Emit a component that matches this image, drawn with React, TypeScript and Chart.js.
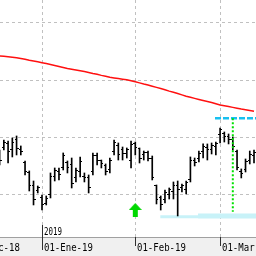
import { useEffect, useRef } from 'react';
import { Chart, registerables } from 'chart.js';

Chart.register(...registerables);

// ---- data (trading-day index 0 = first visible session) ----
const highs = [17.85, 19.59, 19.42, 19.94, 20.29, 18.55, 15.93, 14.19, 12.44, 11.57, 10.0, 9.83, 13.84, 14.71, 14.71, 17.33, 15.93, 16.45, 14.71, 16.63, 13.84, 13.49, 17.33, 17.33, 16.1, 15.41, 16.45, 19.59, 19.07, 18.37, 18.2, 19.42, 19.24, 18.2, 17.67, 17.67, 16.8, 11.74, 9.83, 10.87, 11.22, 12.27, 12.44, 11.92, 12.44, 16.63, 16.45, 17.67, 18.9, 18.9, 19.07, 19.24, 21.69, 20.99, 20.64, 20.12, 17.85, 14.54, 16.28, 17.67, 17.85];
const lows = [15.23, 17.85, 15.58, 16.63, 16.98, 16.98, 13.49, 10.7, 8.26, 10.35, 7.38, 8.26, 9.48, 12.44, 12.62, 14.36, 13.84, 11.22, 12.27, 13.14, 12.27, 10.35, 13.49, 15.23, 14.71, 13.49, 13.84, 16.98, 16.1, 16.1, 16.45, 14.71, 16.98, 15.58, 16.1, 15.93, 12.62, 8.43, 7.38, 8.6, 9.3, 9.3, 6.34, 10.52, 10.17, 12.27, 15.06, 15.76, 16.45, 16.1, 17.15, 16.98, 19.07, 19.24, 18.9, 17.85, 14.36, 12.97, 14.01, 15.41, 15.58];
const opens = [16.98, 18.2, 18.9, 17.85, 19.59, 17.85, 15.58, 13.84, 11.57, 10.7, 9.48, 8.6, 10.0, 13.31, 14.01, 14.71, 15.58, 15.23, 12.97, 14.01, 13.31, 12.97, 14.01, 16.8, 15.93, 15.06, 14.36, 17.5, 18.55, 17.85, 17.15, 16.1, 18.9, 18.02, 16.98, 17.33, 16.45, 11.57, 9.48, 9.13, 10.17, 10.52, 11.74, 11.22, 10.87, 12.62, 15.93, 16.45, 17.5, 18.2, 17.85, 18.37, 20.47, 20.64, 20.12, 19.59, 17.5, 14.01, 14.36, 16.1, 16.8];
const closes = [15.93, 19.07, 17.5, 19.24, 18.02, 17.5, 14.01, 11.74, 9.13, 11.22, 8.26, 9.3, 13.31, 14.19, 13.49, 16.8, 14.71, 11.92, 14.19, 15.76, 12.97, 11.22, 16.8, 15.93, 15.41, 14.01, 16.1, 19.07, 16.98, 17.15, 17.85, 18.72, 18.2, 16.45, 17.33, 16.45, 12.97, 9.13, 8.26, 10.35, 10.87, 11.74, 10.87, 11.57, 12.09, 16.1, 15.58, 17.15, 18.37, 17.85, 18.55, 18.9, 21.34, 20.12, 19.59, 18.37, 14.71, 13.66, 15.76, 16.98, 17.33];
const movingAverage = [34.25, 34.19, 34.11, 34.02, 33.93, 33.81, 33.67, 33.51, 33.37, 33.23, 33.08, 32.92, 32.75, 32.59, 32.41, 32.24, 32.08, 31.94, 31.8, 31.66, 31.52, 31.37, 31.19, 31.04, 30.86, 30.7, 30.53, 30.41, 30.3, 30.2, 30.09, 29.94, 29.75, 29.55, 29.36, 29.19, 28.98, 28.77, 28.56, 28.35, 28.12, 27.91, 27.69, 27.46, 27.23, 27.04, 26.85, 26.66, 26.48, 26.31, 26.13, 25.91, 25.7, 25.56, 25.42, 25.28, 25.14, 25.0, 24.88, 24.74, 24.6];

const monthTickIndex = [-7.3, 10, 32, 52];
const monthLabels = ['01-Dic-18', '01-Ene-19', '01-Feb-19', '01-Mar-19'];
const yearTickIndex = 10;
const yearLabel = '2019';
const priceGrid = [10, 20, 30, 40];

const resistanceLevel = 23.38;
const resistanceFrom = 50.8;
const signalIndex = 55;
const signalBottom = 7.09;
const supportThinLevel = 6.21;
const supportThinFrom = 37.9;
const supportThickLevel = 6.34;
const supportThickFrom = 46.8;
const arrowIndex = 32;
const arrowLevel = 7.38;

const viewMin = 0.094;
const viewMax = 60.47;
const priceMin = 2.67;
const priceMax = 44.01;

function tickImage(side: 'left' | 'right') {
  const c = document.createElement('canvas');
  c.width = 4;
  c.height = 1;
  const g = c.getContext('2d')!;
  g.fillStyle = '#000';
  g.fillRect(side === 'left' ? 0 : 2, 0, 2, 1);
  return c;
}

function arrowImage() {
  const c = document.createElement('canvas');
  c.width = 13;
  c.height = 14;
  const g = c.getContext('2d')!;
  g.fillStyle = '#00d800';
  g.beginPath();
  g.moveTo(6.5, 0);
  g.lineTo(13, 7);
  g.lineTo(0, 7);
  g.closePath();
  g.fill();
  g.fillRect(4, 7, 5, 7);
  return c;
}

const dateAxisPlugin = {
  id: 'dateAxis',
  beforeDraw(chart: any) {
    const { ctx, chartArea, width, height } = chart;
    ctx.save();
    ctx.fillStyle = '#ffffff';
    ctx.fillRect(0, 0, width, height);
    ctx.fillStyle = '#f0f0f0';
    ctx.fillRect(0, chartArea.bottom, width, height - chartArea.bottom);
    ctx.restore();
  },
  afterDraw(chart: any) {
    const { ctx, chartArea } = chart;
    const xs = chart.scales.x;
    const bottom = chartArea.bottom;
    ctx.save();
    ctx.strokeStyle = '#303030';
    ctx.lineWidth = 1;
    ctx.fillStyle = '#000';
    ctx.textBaseline = 'alphabetic';
    ctx.textAlign = 'left';
    ctx.font = '11px "DejaVu Sans Mono"';
    monthTickIndex.forEach((idx, i) => {
      const px = Math.round(xs.getPixelForValue(idx)) + 0.5;
      ctx.beginPath();
      ctx.moveTo(px, bottom);
      ctx.lineTo(px, bottom + 9);
      ctx.stroke();
      ctx.save();
      ctx.translate(px + 1.5, bottom + 14);
      ctx.scale(0.82, 1);
      ctx.fillText(monthLabels[i], 0, 0);
      ctx.restore();
    });
    const yx = Math.round(xs.getPixelForValue(yearTickIndex)) + 0.5;
    ctx.beginPath();
    ctx.moveTo(yx, bottom - 12);
    ctx.lineTo(yx, bottom + 13);
    ctx.stroke();
    ctx.save();
    ctx.translate(yx + 1.5, bottom - 2);
    ctx.scale(0.68, 1);
    ctx.fillText(yearLabel, 0, 0);
    ctx.restore();
    ctx.restore();
  },
};

export default function App() {
  const ref = useRef<HTMLCanvasElement>(null);
  useEffect(() => {
    const openImg = tickImage('left');
    const closeImg = tickImage('right');
    const arrowImg = arrowImage();
    const chart = new Chart(ref.current!, {
      type: 'bar',
      data: {
        datasets: [
          {
            type: 'line',
            data: [{ x: supportThinFrom, y: supportThinLevel }, { x: supportThickFrom, y: supportThinLevel }],
            borderColor: '#c8f2f8',
            borderWidth: 3,
            pointRadius: 0,
            order: 11,
          },
          {
            type: 'line',
            data: [{ x: supportThickFrom, y: supportThickLevel }, { x: viewMax + 1, y: supportThickLevel }],
            borderColor: '#c8f2f8',
            borderWidth: 5,
            pointRadius: 0,
            order: 10,
          },
          {
            type: 'line',
            data: movingAverage.map((v, i) => ({ x: i, y: v })),
            borderColor: '#ff1010',
            borderWidth: 1.5,
            pointRadius: 0,
            tension: 0,
            order: 9,
          },
          {
            type: 'bar',
            data: highs.map((h, i) => ({ x: i, y: [lows[i], h] })),
            backgroundColor: '#000',
            borderWidth: 0,
            barThickness: 1,
            grouped: false,
            order: 5,
          },
          {
            type: 'line',
            data: opens.map((v, i) => ({ x: i, y: v })),
            showLine: false,
            pointStyle: openImg,
            pointRadius: 1,
            order: 4,
          },
          {
            type: 'line',
            data: closes.map((v, i) => ({ x: i, y: v })),
            showLine: false,
            pointStyle: closeImg,
            pointRadius: 1,
            order: 3,
          },
          {
            type: 'line',
            data: [{ x: resistanceFrom, y: resistanceLevel }, { x: viewMax + 1, y: resistanceLevel }],
            borderColor: '#18c0f0',
            borderWidth: 2.5,
            borderDash: [6, 2],
            pointRadius: 0,
            order: 2,
          },
          {
            type: 'line',
            data: [{ x: signalIndex, y: resistanceLevel }, { x: signalIndex, y: signalBottom }],
            borderColor: '#00e000',
            borderWidth: 2,
            borderDash: [2, 2],
            pointRadius: 0,
            order: 1,
          },
          {
            type: 'line',
            data: [{ x: arrowIndex, y: arrowLevel }],
            showLine: false,
            pointStyle: arrowImg,
            pointRadius: 1,
            order: 0,
          },
        ] as any,
      },
      options: {
        animation: false,
        responsive: false,
        devicePixelRatio: 1,
        events: [],
        layout: { padding: 0, autoPadding: false },
        plugins: { legend: { display: false }, tooltip: { enabled: false }, title: { display: false } },
        scales: {
          x: {
            type: 'linear',
            min: viewMin,
            max: viewMax,
            offset: false,
            ticks: { display: false },
            grid: { color: '#c0c0c0', drawTicks: false, offset: false, lineWidth: 1 },
            border: { display: true, color: '#a0a0a0', width: 1, dash: [3, 3] },
            afterBuildTicks: (s: any) => {
              s.ticks = monthTickIndex.filter((v) => v >= viewMin && v <= viewMax).map((v) => ({ value: v }));
            },
            afterFit: (s: any) => {
              s.height = 19;
            },
          },
          y: {
            type: 'linear',
            min: priceMin,
            max: priceMax,
            ticks: { display: false },
            grid: { color: '#c0c0c0', drawTicks: false, lineWidth: 1 },
            border: { display: false, dash: [3, 3] },
            afterBuildTicks: (s: any) => {
              s.ticks = priceGrid.map((v) => ({ value: v }));
            },
            afterFit: (s: any) => {
              s.width = 0;
            },
          },
        },
      } as any,
      plugins: [dateAxisPlugin],
    });
    return () => chart.destroy();
  }, []);
  return (
    <div style={{ position: 'fixed', left: 0, top: 0, width: 256, height: 256 }}>
      <canvas ref={ref} width={256} height={256} style={{ display: 'block' }} />
    </div>
  );
}
